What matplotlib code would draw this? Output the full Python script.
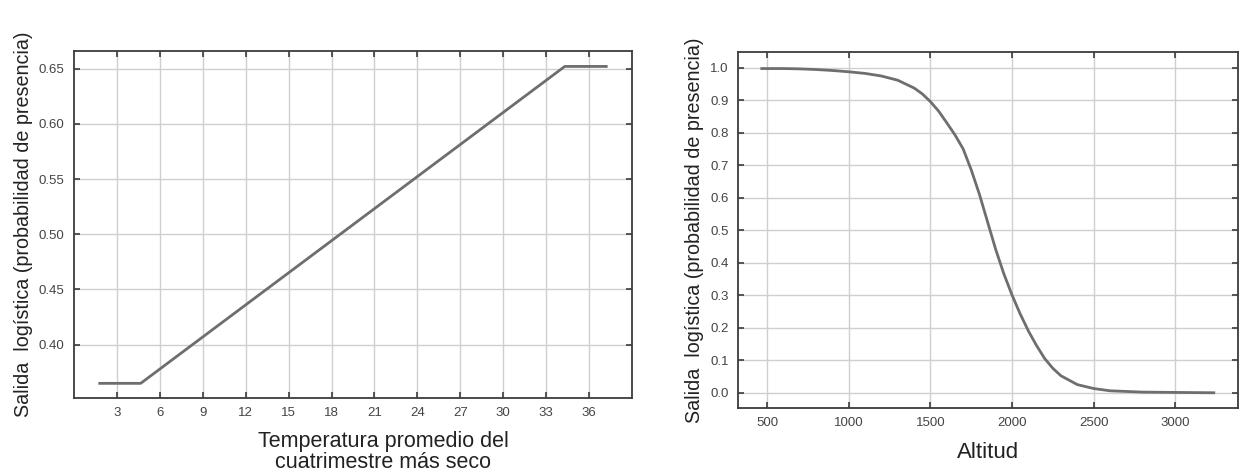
import matplotlib
matplotlib.use("Agg")
import matplotlib.pyplot as plt

plt.rcParams['font.family'] = ['Liberation Sans', 'DejaVu Sans']

# Left panel: temperature response
temp_x = [1.8, 4.66, 34.3, 37.2]
temp_y = [0.365, 0.365, 0.652, 0.652]
temp_xticks = [3, 6, 9, 12, 15, 18, 21, 24, 27, 30, 33, 36]
temp_yticks = [0.40, 0.45, 0.50, 0.55, 0.60, 0.65]

# Right panel: altitude response
alt_x = [466, 600, 700, 800, 900, 1000, 1100, 1200, 1300, 1400, 1450, 1500,
         1550, 1600, 1650, 1700, 1750, 1800, 1850, 1900, 1950, 2000, 2050,
         2100, 2150, 2200, 2250, 2300, 2400, 2500, 2600, 2700, 2800, 3000, 3236]
alt_y = [0.997, 0.997, 0.996, 0.994, 0.991, 0.987, 0.982, 0.974, 0.961, 0.937,
         0.919, 0.895, 0.866, 0.83, 0.793, 0.75, 0.685, 0.61, 0.525, 0.44,
         0.365, 0.30, 0.242, 0.19, 0.145, 0.105, 0.075, 0.052, 0.025,
         0.013, 0.006, 0.004, 0.002, 0.001, 0.0]
alt_xticks = [500, 1000, 1500, 2000, 2500, 3000]
alt_yticks = [0.0, 0.1, 0.2, 0.3, 0.4, 0.5, 0.6, 0.7, 0.8, 0.9, 1.0]

ylabel = "Salida  logística (probabilidad de presencia)"
line_color = "#6e6e6e"
spine_color = "#3c3c3c"
grid_color = "#cfcfcf"
tick_color = "#444444"

fig = plt.figure(figsize=(12.5, 4.72), dpi=100)
ax1 = fig.add_axes([0.0592, 0.1574, 0.4464, 0.7346])
ax2 = fig.add_axes([0.5906, 0.1362, 0.3995, 0.7530])

def style(ax):
    for s in ax.spines.values():
        s.set_color(spine_color)
        s.set_linewidth(1.3)
    ax.grid(True, color=grid_color, linewidth=1.0)
    ax.set_axisbelow(True)
    ax.tick_params(direction='in', top=True, right=True, length=4,
                   width=1.2, color=spine_color, labelsize=9.5,
                   labelcolor=tick_color, pad=7)

ax1.plot(temp_x, temp_y, color=line_color, linewidth=2.0)
ax1.set_xlim(0, 39)
ax1.set_ylim(0.352, 0.666)
ax1.set_xticks(temp_xticks)
ax1.set_yticks(temp_yticks)
ax1.set_yticklabels([f"{v:.2f}" for v in temp_yticks])
style(ax1)
ax1.set_xlabel("Temperatura promedio del\ncuatrimestre más seco",
               fontsize=15.5, color="#222222", labelpad=8, linespacing=1.05,
               x=0.554)
ax1.set_ylabel(ylabel, fontsize=14.2, color="#222222", labelpad=4)

ax2.plot(alt_x, alt_y, color=line_color, linewidth=2.0)
ax2.set_xlim(322, 3382)
ax2.set_ylim(-0.046, 1.047)
ax2.set_xticks(alt_xticks)
ax2.set_yticks(alt_yticks)
ax2.set_yticklabels([f"{v:.1f}" for v in alt_yticks])
style(ax2)
ax2.set_xlabel("Altitud", fontsize=16, color="#222222", labelpad=9)
ax2.set_ylabel(ylabel, fontsize=14.2, color="#222222", labelpad=4)

fig.savefig("out.png", dpi=100, facecolor="white")
